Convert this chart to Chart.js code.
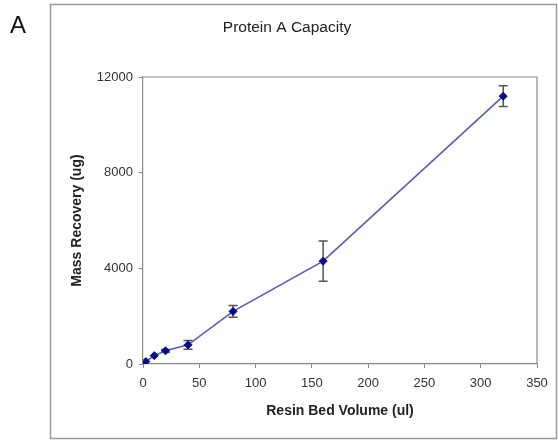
<!DOCTYPE html>
<html>
<head>
<meta charset="utf-8">
<script src="https://cdn.jsdelivr.net/npm/chart.js@4/dist/chart.umd.min.js"></script>
<style>
html,body{margin:0;padding:0;background:#fff;}
#wrap{width:558px;height:440px;position:relative;}
</style>
</head>
<body>
<div id="wrap"><canvas id="c" width="558" height="440"></canvas></div>
<script>
const chartTitle = "Protein A Capacity";
const panelLabel = "A";
const xTitle = "Resin Bed Volume (ul)";
const yTitle = "Mass Recovery (ug)";
const volumes = [2.5, 10, 20, 40, 80, 160, 320];
const recovery = [100, 350, 550, 800, 2200, 4300, 11200];
const errors = [0, 0, 60, 180, 250, 840, 430];
const FONT = '"Liberation Sans", Arial, sans-serif';

const errorBars = {
  id: 'errorBars',
  beforeDatasetsDraw(chart) {
    const ctx = chart.ctx, xs = chart.scales.x, ys = chart.scales.y;
    ctx.save();
    ctx.strokeStyle = '#555';
    ctx.lineWidth = 1.5;
    volumes.forEach((v, i) => {
      if (!errors[i]) return;
      const px = xs.getPixelForValue(v);
      const t = ys.getPixelForValue(recovery[i] + errors[i]);
      const b = ys.getPixelForValue(recovery[i] - errors[i]);
      ctx.beginPath();
      ctx.moveTo(px, t); ctx.lineTo(px, b);
      ctx.moveTo(px - 4.5, t); ctx.lineTo(px + 4.5, t);
      ctx.moveTo(px - 4.5, b); ctx.lineTo(px + 4.5, b);
      ctx.stroke();
    });
    ctx.restore();
  }
};

const decor = {
  id: 'decor',
  beforeDraw(chart) {
    const ctx = chart.ctx;
    ctx.save();
    ctx.fillStyle = '#fff';
    ctx.fillRect(0, 0, chart.width, chart.height);
    ctx.restore();
  },
  afterDraw(chart) {
    const ctx = chart.ctx, a = chart.chartArea;
    ctx.save();
    ctx.strokeStyle = '#9a9a9a';
    ctx.lineWidth = 1.5;
    ctx.strokeRect(50.5, 4.5, 506, 434);
    ctx.strokeStyle = '#8a8a8a';
    ctx.lineWidth = 1.2;
    ctx.beginPath();
    ctx.moveTo(a.left, a.top); ctx.lineTo(a.right, a.top); ctx.lineTo(a.right, a.bottom);
    ctx.stroke();
    ctx.fillStyle = '#111';
    ctx.font = '24px ' + FONT;
    ctx.textAlign = 'center';
    ctx.textBaseline = 'middle';
    ctx.fillText(panelLabel, 18, 26);
    ctx.fillStyle = '#222';
    ctx.font = '15.5px ' + FONT;
    ctx.fillText(chartTitle, 287, 28);
    ctx.font = 'bold 14px ' + FONT;
    ctx.fillText(xTitle, (a.left + a.right) / 2, 411);
    ctx.translate(77, (a.top + a.bottom) / 2);
    ctx.rotate(-Math.PI / 2);
    ctx.fillText(yTitle, 0, 0);
    ctx.restore();
  }
};

new Chart(document.getElementById('c'), {
  type: 'line',
  data: {
    datasets: [{
      data: volumes.map((v, i) => ({x: v, y: recovery[i]})),
      borderColor: '#5a5ab8',
      borderWidth: 1.6,
      pointStyle: 'rectRot',
      pointRadius: 4,
      pointBackgroundColor: '#0a0a8a',
      pointBorderColor: '#0a0a8a',
      pointBorderWidth: 1,
      tension: 0,
      fill: false
    }]
  },
  options: {
    responsive: false,
    animation: false,
    devicePixelRatio: 1,
    layout: { padding: { top: 77, right: 21, left: 0, bottom: 0 } },
    plugins: { legend: { display: false }, title: { display: false }, tooltip: { enabled: false } },
    scales: {
      x: {
        type: 'linear',
        min: 0, max: 350,
        afterFit(s) { s.height = 76; },
        ticks: { stepSize: 50, color: '#333', padding: 8, callback: v => String(v), font: { size: 13, family: FONT } },
        grid: { display: true, drawOnChartArea: false, drawTicks: true, tickLength: 4, color: '#8a8a8a' },
        border: { display: true, color: '#8a8a8a', width: 1.2 }
      },
      y: {
        min: 0, max: 12000,
        afterFit(s) { s.width = 143; },
        ticks: { stepSize: 4000, color: '#333', padding: 6, callback: v => String(v), font: { size: 13, family: FONT } },
        grid: { display: true, drawOnChartArea: false, drawTicks: true, tickLength: 4, color: '#8a8a8a' },
        border: { display: true, color: '#8a8a8a', width: 1.2 }
      }
    }
  },
  plugins: [decor, errorBars]
});
</script>
</body>
</html>
